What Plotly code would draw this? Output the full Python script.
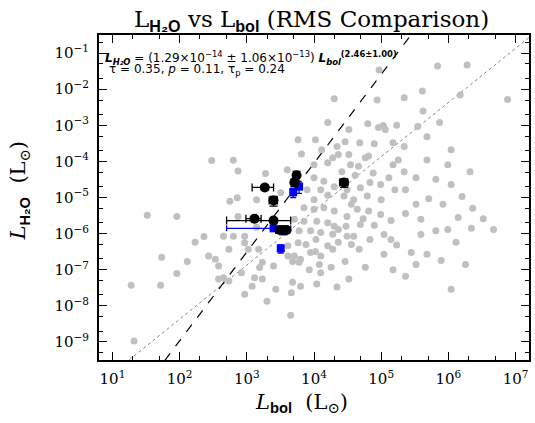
import plotly.graph_objects as go

# ---------------- data ----------------
gray_lbol = [
    9.3e4, 6.9e5, 1.9e6, 2.0e4, 8.7e4, 2.2e5, 4.1e5, 1.5e6, 7.6e6, 4.2e5,
    6.3e4, 9.1e4, 1.07e5, 1.15e5, 3.5e5, 7.4e5, 1.6e4, 4.8e5, 2.9e4, 4.8e4,
    7.9e4, 1.5e5, 2.2e5, 2.2e4, 6.3e2, 7.4e2, 6.5e3, 2.3e4, 3.3e4, 6.5e4,
    1.9e3, 4.0e3, 1.0e4, 1.6e4, 3.5e4, 4.6e4, 7.6e4, 1.0e4, 1.4e4, 2.0e4,
    3.1e4, 4.9e4, 6.8e4, 1.26e4, 2.8e4, 3.9e4, 6.2e4, 1.0e4, 7.9e3, 5.6e2,
    7.2e2, 1.4e3, 3.2e3, 7.1e3, 1.0e4, 1.4e4, 2.0e4, 3.1e4, 4.4e4, 6.5e4,
    5.1e3, 7.1e3, 1.1e4, 1.6e4, 2.0e4, 3.0e4, 4.9e4, 6.0e3, 8.9e3, 1.26e4,
    1.9e4, 3.1e4, 6.8e4, 5.8e3, 7.6e3, 1.07e4, 1.6e4, 3.9e4, 9.3e2, 6.3e2,
    4.5e2, 9.3e2, 1.05e3, 1.5e3, 4.1e3, 5.1e3, 6.3e3, 8.9e3, 1.26e4, 1.9e4,
    2.7e2, 3.4e2, 3.8e2, 5.4e2, 1.7e3, 1.55e3, 2.5e3, 4.1e3, 4.8e3, 6.0e3,
    1.2e4, 1.26e4, 8.3e2, 4.5e2, 5.4e2, 1.3e3, 1.7e3, 3.8e2, 52, 91,
    1.2e3, 9.3e2, 4.8e3, 6.3e3, 1.1e4, 4.6e3, 91, 1.5e5, 2.2e5, 3.3e5,
    4.8e5, 9.8e5, 1.1e6, 1.6e6, 2.3e6, 3.3e6, 4.7e6, 2.2e6, 1.4e6, 8.3e5,
    5.1e5, 3.3e5, 2.3e5, 1.4e5, 1.1e5, 1.7e5, 2.8e5, 4.8e5, 7.8e5, 1.3e6,
    1.5e5, 2.3e5, 1.0e5, 1.6e5, 9.8e4, 6.5e5, 3.9e5, 1.1e5, 2.0e3, 4.5e3,
    33, 19, 21, 54, 1.3e2, 1.7e2, 2.3e2, 3.0e2,
    1.3e4, 1.9e4, 2.6e4, 4.1e4, 5.8e4, 1.3e5, 1.6e4, 3.6e4, 5.4e4, 7.9e4,
    2.3e4, 4.7e4, 2.9e4, 1.8e4, 3.3e4, 8.5e3, 2.7e3, 7.4e2, 1.4e3, 2.3e5,
    3.9e5, 6.5e5, 9.8e5, 1.8e6, 1.1e6, 5.8e3,
    1.05e4, 3.3e4, 1.7e5, 1.1e6, 2.1e6, 1.8e5, 9.8e4, 2.3e4, 3.6e4, 1.05e4,
    1.4e5, 5.8e4, 2.2e4, 3.3e5,
]
gray_lh2o = [
    3.4e-2, 4.4e-2, 4.7e-2, 5.4e-3, 5.0e-3, 5.8e-3, 8.9e-3, 6.9e-3, 5.2e-3, 2.5e-3,
    1.1e-3, 8.7e-4, 9.8e-4, 7.6e-4, 9.3e-4, 1.2e-3, 1.2e-3, 4.8e-4, 3.5e-4, 3.3e-4,
    3.1e-4, 3.3e-4, 2.6e-4, 2.6e-4, 1.07e-4, 5.4e-5, 1.6e-4, 1.55e-4, 1.55e-4, 1.4e-4,
    4.6e-5, 5.9e-5, 8.1e-5, 9.1e-5, 8.1e-5, 7.3e-5, 4.8e-5, 3.5e-5, 2.8e-5, 2.0e-5,
    1.65e-5, 1.85e-5, 2.6e-5, 1.65e-5, 1.1e-5, 8.7e-6, 1.1e-5, 8.7e-6, 1.65e-5, 7.9e-6,
    9.8e-6, 8.7e-6, 1.35e-5, 5.2e-6, 4.7e-6, 5.2e-6, 4.2e-6, 3.0e-6, 4.7e-6, 4.2e-6,
    2.5e-6, 2.2e-6, 2.2e-6, 2.0e-6, 1.6e-6, 1.6e-6, 1.8e-6, 1.2e-6, 1.2e-6, 1.07e-6,
    9.6e-7, 8.5e-7, 6.9e-7, 5.6e-7, 5.0e-7, 6.9e-7, 4.6e-7, 8.5e-7, 8.5e-7, 8.5e-7,
    8.5e-7, 5.6e-7, 3.7e-7, 3.7e-7, 4.6e-7, 2.4e-7, 1.95e-7, 3.0e-7, 2.4e-7, 3.7e-7,
    2.4e-7, 1.95e-7, 1.26e-7, 3.7e-7, 1.6e-7, 1.15e-7, 1.26e-7, 2.4e-7, 1.7e-7, 1.6e-7,
    1.4e-7, 8.3e-8, 8.3e-8, 6.0e-8, 4.9e-8, 6.0e-8, 5.5e-8, 5.5e-8, 3.7e-8, 7.9e-8,
    3.5e-8, 2.1e-8, 4.5e-8, 3.5e-8, 4.0e-8, 2.3e-8, 3.0e-6, 8.1e-5, 5.2e-5, 3.5e-5,
    1.1e-4, 8.1e-5, 2.3e-5, 1.07e-5, 5.0e-6, 2.6e-6, 1.3e-6, 1.4e-6, 2.8e-6, 6.5e-6,
    9.3e-6, 6.5e-6, 3.6e-6, 2.3e-6, 9.5e-7, 4.8e-7, 3.0e-7, 2.7e-7, 1.8e-7, 5.8e-7,
    1.0e-7, 6.6e-8, 8.7e-6, 1.65e-5, 3.4e-6, 1.2e-6, 9.5e-7, 2.7e-7, 1.35e-8, 5.5e-9,
    3.2e-6, 3.7e-8, 1.07e-9, 2.2e-7, 1.7e-7, 5.8e-7, 8.3e-7, 1.05e-4,
    2.1e-4, 1.26e-4, 5.2e-5, 4.1e-5, 1.26e-4, 3.5e-5, 1.15e-5, 6.5e-6, 2.6e-6, 1.7e-6,
    5.8e-7, 3.7e-7, 1.7e-7, 1.17e-7, 5.5e-8, 1.0e-7, 2.9e-8, 3.0e-6, 1.5e-6, 1.65e-5,
    2.5e-6, 3.2e-5, 1.3e-6, 1.4e-7, 2.9e-8, 4.0e-4,
    4.0e-4, 7.6e-4, 1.0e-3, 2.1e-4, 5.2e-5, 1.1e-4, 2.3e-5, 1.3e-6, 5.0e-7, 3.2e-7,
    6.9e-7, 1.17e-7, 3.3e-8, 1.4e-7,
]

black_lbol = [1.85e3, 5.5e3, 5.1e3, 2.5e3, 1.3e3, 2.5e3, 3.1e3, 3.5e3, 3.9e3, 2.8e4]
black_lbol_err = [650, 500, 400, 350, 330, 2000, 400, 400, 400, 4000]
black_lh2o = [1.9e-5, 4.1e-5, 2.6e-5, 8.3e-6, 2.6e-6, 2.3e-6, 1.26e-6, 1.26e-6, 1.26e-6, 2.6e-5]
black_lh2o_err = [3e-6, 1.2e-5, 6e-6, 2.5e-6, 3e-7, 3e-7, 2e-7, 2e-7, 2e-7, 7e-6]

blue_lbol = [4.9e3, 6.0e3, 2.5e3, 3.2e3, 3.5e3]
blue_lbol_err = [300, 300, 2000, 300, 400]
blue_lh2o = [1.4e-5, 2.0e-5, 1.4e-6, 3.9e-7, 1.15e-6]
blue_lh2o_err = [4e-6, 7e-6, 2e-7, 1e-7, 2e-7]

# fit lines
fit_norm, fit_slope = 1.29e-14, 2.46          # dashed (RMS fit)
all_norm, all_slope = 10 ** -11.37, 1.50      # dotted (full sample)
line_lbol = [1.0, 1.0e8]

tick_exp_x = [1, 2, 3, 4, 5, 6, 7]
tick_exp_y = [-9, -8, -7, -6, -5, -4, -3, -2, -1]


def pow_label(e):
    s = str(e).replace("-", "−")
    return "10<sup>" + s + "</sup>"


# ---------------- figure ----------------
fig = go.Figure()

fig.add_trace(go.Scatter(
    x=line_lbol, y=[all_norm * v ** all_slope for v in line_lbol],
    mode="lines", line=dict(color="#888888", width=1, dash="dot"),
    hoverinfo="skip", showlegend=False))
fig.add_trace(go.Scatter(
    x=line_lbol, y=[fit_norm * v ** fit_slope for v in line_lbol],
    mode="lines", line=dict(color="black", width=1.2, dash="dash"),
    hoverinfo="skip", showlegend=False))

fig.add_trace(go.Scatter(
    x=gray_lbol, y=gray_lh2o, mode="markers",
    marker=dict(color="rgb(192,192,192)", size=7, line=dict(width=0)),
    showlegend=False))

fig.add_trace(go.Scatter(
    x=blue_lbol, y=blue_lh2o, mode="markers",
    marker=dict(color="#0000ff", size=8, symbol="square", line=dict(width=0)),
    error_x=dict(type="data", array=blue_lbol_err, color="#0000ff", thickness=1.3, width=3),
    error_y=dict(type="data", array=blue_lh2o_err, color="#0000ff", thickness=1.3, width=3),
    showlegend=False))

fig.add_trace(go.Scatter(
    x=black_lbol, y=black_lh2o, mode="markers",
    marker=dict(color="black", size=10, line=dict(width=0)),
    error_x=dict(type="data", array=black_lbol_err, color="black", thickness=1.3, width=4),
    error_y=dict(type="data", array=black_lh2o_err, color="black", thickness=1.3, width=4),
    showlegend=False))

axis_common = dict(
    type="log", showgrid=False, zeroline=False,
    showline=True, linecolor="black", linewidth=2, mirror="allticks",
    ticks="inside", ticklen=8, tickwidth=1, tickcolor="black",
    minor=dict(ticks="inside", ticklen=4, tickwidth=1, tickcolor="black", showgrid=False),
    tickfont=dict(family="DejaVu Serif", size=15, color="black"),
)

fig.update_xaxes(range=[0.8, 7.2],
                 tickvals=[10 ** e for e in tick_exp_x],
                 ticktext=[pow_label(e) for e in tick_exp_x],
                 ticklabelstandoff=4, **axis_common)
fig.update_yaxes(range=[-9.5, -0.5],
                 tickvals=[10 ** e for e in tick_exp_y],
                 ticktext=[pow_label(e) for e in tick_exp_y],
                 ticklabelstandoff=5, **axis_common)

sans_b = "font-family:'Liberation Sans'"
fig.update_layout(
    width=535, height=423,
    margin=dict(l=99, r=4, t=35, b=63),
    paper_bgcolor="white", plot_bgcolor="white",
    font=dict(family="DejaVu Serif", color="black"),
    annotations=[
        dict(text="L<sub><b><span style=\"" + sans_b + "\">H₂O</span></b></sub> vs "
                  "L<sub><b><span style=\"" + sans_b + "\">bol</span></b></sub> (RMS Comparison)",
             xref="paper", yref="paper", x=0.495, y=1.045, showarrow=False,
             xanchor="center", yanchor="middle", font=dict(size=23, family="DejaVu Serif")),
        dict(text="<i>L</i><sub><b><span style=\"" + sans_b + "\">bol</span></b></sub>  (L<sub>⊙</sub>)",
             xref="paper", yref="paper", x=0.472, y=-0.133, showarrow=False,
             xanchor="center", yanchor="middle", font=dict(size=21, family="DejaVu Serif")),
        dict(text="<i>L</i><sub><b><span style=\"" + sans_b + "\">H₂O</span></b></sub>  (L<sub>⊙</sub>)",
             xref="paper", yref="paper", x=-0.185, y=0.523, showarrow=False, textangle=-90,
             xanchor="center", yanchor="middle", font=dict(size=21, family="DejaVu Serif")),
        dict(text="<b><i>L</i><sub><i>H₂O</i></sub></b> = (1.29×10<sup>−14</sup> ± 1.06×10<sup>−13</sup>) "
                  "<b><i>L</i><sub><i>bol</i></sub></b><sup><b>(2.46±1.00)</b></sup>",
             xref="paper", yref="paper", x=0.009, y=0.93, showarrow=False,
             xanchor="left", yanchor="middle",
             font=dict(size=12, family="DejaVu Sans", color="black")),
        dict(text="τ = 0.35, <i>p</i> = 0.11, τ<sub>p</sub> = 0.24",
             xref="paper", yref="paper", x=0.019, y=0.893, showarrow=False,
             xanchor="left", yanchor="middle",
             font=dict(size=12, family="DejaVu Sans", color="black")),
    ],
)

fig.write_html("out.html",
               config={"displayModeBar": False, "staticPlot": True},
               post_script="document.body.style.margin='0';document.body.style.overflow='hidden';")
